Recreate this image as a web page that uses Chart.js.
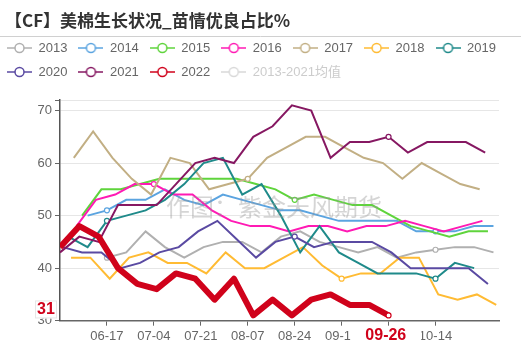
<!DOCTYPE html>
<html>
<head>
<meta charset="utf-8">
<script src="https://cdn.jsdelivr.net/npm/chart.js@4.4.1/dist/chart.umd.min.js"></script>
<style>
  html, body { margin: 0; padding: 0; background: #fff; }
  canvas { display: block; }
</style>
</head>
<body>
<canvas id="myChart" width="521" height="364"></canvas>
<script>
// series names (legend order) and the first weekly report date of each year
const seriesNames = ['2013', '2014', '2015', '2016', '2017', '2018', '2019', '2020', '2021', '2022', '2013-2021均值'];
const firstReport = ['06-17', '06-10', '06-08', '06-06', '06-05', '06-04', '06-03', '06-01', '05-31', '05-31', '06-01'];

// % good/excellent, one value per weekly report
const good2013 = [42, 43, 47, 44, 42, 44, 45, 45, 43, 46, 47, 45, 44, 43, 44, 42, 43, 43.5, 44, 44, 43];
const good2014 = [50, 51, 53, 53, 55, 53, 52, 54, 53, 52, 51, 51, 50, 49, 49, 49, 49, 47, 47, 47, 48, 48];
const good2015 = [50, 55, 55, 56, 57, 57, 57, 57, 57, 56, 55, 53, 54, 53, 52, 52, 50, 48, 47, 46, 47, 47];
const good2016 = [48, 53, 54, 56, 56, 54, 54, 51, 49, 48, 48, 47, 48, 48, 47, 48, 48, 49, 48, 47, 48, 49];
const good2017 = [61, 66, 61, 57, 54, 61, 60, 55, 56, 57, 61, 63, 65, 65, 63, 61, 60, 57, 60, 58, 56, 55];
const good2018 = [42, 42, 38, 42, 43, 41, 41, 39, 43, 40, 40, 42, 44, 40.5, 38, 39, 39, 42, 42, 35, 34, 35, 33];
const good2019 = [46, 44, 49, 50, 51, 53, 56, 60, 61, 54, 56, 50, 43, 48, 43, 41, 39, 39, 39, 38, 41, 40];
const good2020 = [44, 43, 43, 40, 41, 43, 44, 47, 49, 45.5, 42, 45, 46, 44, 45, 45, 45, 43, 40, 40, 40, 40, 37];
const good2021 = [43, 46, 45, 52, 52, 52, 56, 60, 61, 60, 65, 67, 71, 70, 61, 64, 64, 65, 62, 64, 64, 64, 62];
const good2022 = [44, 48, 46, 40, 37, 36, 39, 38, 34, 38, 31, 34, 31, 34, 35, 33, 33, 31];
const goodAvg = []; // switched off in the original legend

const xRange = ['05-31', '11-06'];
const xTickLabels = ['06-17', '07-04', '07-21', '08-07', '08-24', '09-10', '09-27', '10-14'];
const yTickValues = [30, 40, 50, 60, 70, 72];
const pointerDate = '09-26';
const pointerValue = 31;

const seriesColors = ['#b0b0b0', '#5ba4e0', '#5fd43c', '#ff1ab4', '#c2af84', '#ffbb33',
                      '#1f8a8a', '#5a4aa2', '#861862', '#d0021b', '#d9d9d9'];

const allValues = [good2013, good2014, good2015, good2016, good2017, good2018,
                   good2019, good2020, good2021, good2022, goodAvg];

// month-day -> day of year (common year)
const monthLen = [31, 28, 31, 30, 31, 30, 31, 31, 30, 31, 30, 31];
const toDay = md => {
    const [m, d] = md.split('-').map(Number);
    let n = d;
    for (let i = 0; i < m - 1; i++) n += monthLen[i];
    return n;
};
const tickDays = xTickLabels.map(toDay);

const font = '"Liberation Sans", "Noto Sans CJK SC", sans-serif';

const makeIcon = color => {
    const c = document.createElement('canvas');
    c.width = 25; c.height = 12;
    const g = c.getContext('2d');
    g.strokeStyle = color;
    g.lineWidth = 1.5;
    g.beginPath(); g.moveTo(0, 6); g.lineTo(25, 6); g.stroke();
    g.beginPath(); g.arc(12.5, 6, 4.5, 0, Math.PI * 2);
    g.fillStyle = '#fff'; g.fill(); g.stroke();
    return c;
};

const datasets = seriesNames.map((name, i) => {
    const start = toDay(firstReport[i]);
    const last = i === 9;
    return {
        label: name,
        data: allValues[i].map((v, k) => ({ x: start + 7 * k, y: v })),
        borderColor: seriesColors[i],
        backgroundColor: seriesColors[i],
        borderWidth: last ? 6 : 2,
        borderJoinStyle: last ? 'round' : 'miter',
        pointRadius: ctx => (ctx.raw && tickDays.includes(ctx.raw.x)) ? 2.5 : 0,
        pointBackgroundColor: '#fff',
        pointBorderColor: seriesColors[i],
        pointBorderWidth: 1.2,
        tension: 0,
        order: seriesNames.length - i,
        hidden: i === 10
    };
});

const decorations = {
    id: 'decorations',
    afterDatasetsDraw(chart) {
        const ctx = chart.ctx;
        ctx.save();
        ctx.font = '24px "Noto Sans CJK SC", sans-serif';
        ctx.fillStyle = 'rgba(150,150,150,0.4)';
        ctx.textAlign = 'left';
        ctx.textBaseline = 'middle';
        ctx.fillText('作图：紫金天风期货', 166, 207);
        ctx.restore();
    },
    afterDraw(chart) {
        const ctx = chart.ctx;
        const xs = chart.scales.x, ys = chart.scales.y;
        ctx.save();
        // title + rule
        ctx.font = 'bold 17px "Noto Sans CJK SC", sans-serif';
        ctx.fillStyle = '#333';
        ctx.textAlign = 'left';
        ctx.textBaseline = 'middle';
        ctx.fillText('【CF】美棉生长状况_苗情优良占比%', 5, 21);
        ctx.strokeStyle = '#d0d0d0';
        ctx.lineWidth = 1;
        ctx.beginPath(); ctx.moveTo(0, 36.5); ctx.lineTo(chart.width, 36.5); ctx.stroke();

        // axis pointer labels
        ctx.font = 'bold 16px ' + font;
        const px = xs.getPixelForValue(toDay(pointerDate));
        const tw = ctx.measureText(pointerDate).width;
        ctx.fillStyle = '#fff';
        ctx.fillRect(px - tw / 2 - 15, xs.top + 6, tw + 30, 20);
        ctx.fillStyle = '#d0021b';
        ctx.textAlign = 'center';
        ctx.fillText(pointerDate, px, xs.top + 15);

        const py = ys.getPixelForValue(pointerValue) - 6;
        ctx.fillStyle = '#fff';
        ctx.fillRect(35, py - 9, 22, 18);
        ctx.strokeStyle = '#e6e6e6';
        ctx.strokeRect(35.5, py - 8.5, 21, 17);
        ctx.fillStyle = '#d0021b';
        ctx.fillText(String(pointerValue), 46, py);
        ctx.restore();
    }
};

const ctx = document.getElementById('myChart').getContext('2d');
let myChart = new Chart(ctx, {
    type: 'line',
    data: { datasets },
    options: {
        responsive: false,
        animation: false,
        devicePixelRatio: 1,
        layout: { padding: { top: 30.5, left: -4, right: 0, bottom: 0 } },
        plugins: {
            title: { display: false },
            subtitle: { display: true, text: ' ', weight: 900, padding: 0, font: { size: 10, lineHeight: 1.15 } },
            tooltip: { enabled: false },
            legend: {
                position: 'top',
                align: 'start',
                labels: {
                    usePointStyle: true,
                    pointStyleWidth: 25,
                    padding: 11,
                    font: { family: font, size: 13 },
                    sort: (a, b) => a.datasetIndex - b.datasetIndex,
                    generateLabels: chart => chart.data.datasets.map((ds, i) => ({
                        text: ds.label,
                        datasetIndex: i,
                        pointStyle: makeIcon(seriesColors[i]),
                        fontColor: i === 10 ? '#cccccc' : '#666',
                        hidden: false,
                        lineWidth: 0
                    }))
                }
            }
        },
        scales: {
            x: {
                type: 'linear',
                min: toDay(xRange[0]),
                max: toDay(xRange[1]),
                afterBuildTicks: s => { s.ticks = tickDays.map(v => ({ value: v })); },
                afterFit: s => { s.height = 43.3; },
                grid: { drawOnChartArea: false, tickLength: 5, tickColor: '#666' },
                border: { color: '#666', width: 1.5 },
                ticks: {
                    autoSkip: false,
                    maxRotation: 0,
                    padding: 3,
                    color: '#666',
                    font: { family: font, size: 13 },
                    callback: (v, i) => xTickLabels[i]
                }
            },
            y: {
                min: yTickValues[0],
                max: yTickValues[yTickValues.length - 1],
                afterBuildTicks: s => { s.ticks = yTickValues.map(v => ({ value: v })); },
                afterFit: s => { s.width = 64; },
                grid: { color: '#e6e6e6', tickColor: '#666', tickLength: 5 },
                border: { color: '#555', width: 1.5 },
                ticks: {
                    autoSkip: false,
                    padding: 3,
                    color: '#666',
                    font: { family: font, size: 13 },
                    callback: v => (v % 10 === 0 ? v : '')
                }
            },
            pad: {
                type: 'linear',
                position: 'right',
                display: true,
                grid: { display: false },
                border: { display: false },
                ticks: { display: false },
                afterFit: s => { s.width = 22; }
            }
        }
    },
    plugins: [decorations]
});
</script>
</body>
</html>
